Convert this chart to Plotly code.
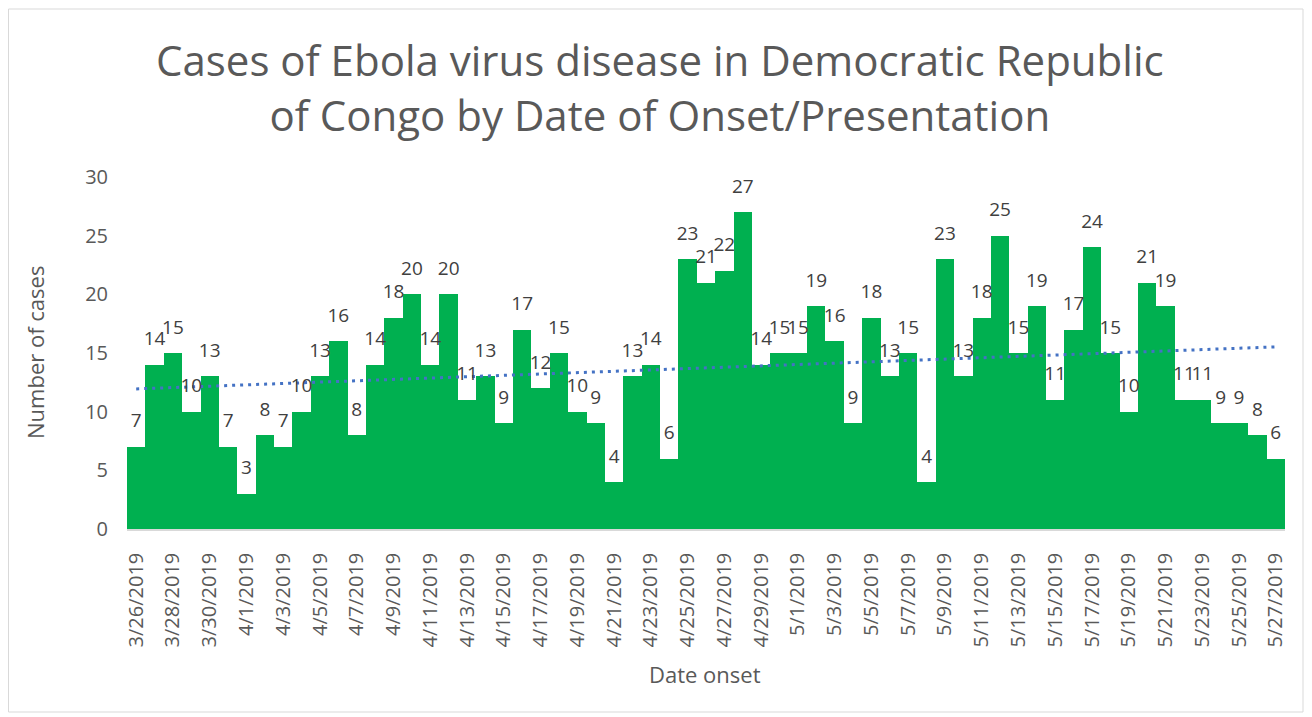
import datetime as dt
import numpy as np
import plotly.graph_objects as go

start = dt.date(2019, 3, 26)
dates = [f"{d.month}/{d.day}/{d.year}" for d in (start + dt.timedelta(days=i) for i in range(63))]
cases = [7, 14, 15, 10, 13, 7, 3, 8, 7, 10,
         13, 16, 8, 14, 18, 20, 14, 20, 11, 13,
         9, 17, 12, 15, 10, 9, 4, 13, 14, 6,
         23, 21, 22, 27, 14, 15, 15, 19, 16, 9,
         18, 13, 15, 4, 23, 13, 18, 25, 15, 19,
         11, 17, 24, 15, 10, 21, 19, 11, 11, 9,
         9, 8, 6]
tick_labels = dates[::2]
title_text = "Cases of Ebola virus disease in Democratic Republic<br>of Congo by Date of Onset/Presentation"
x_title = "Date onset"
y_title = "Number of cases"

idx = np.arange(1, len(cases) + 1)
slope, intercept = np.polyfit(idx, cases, 1)
trend = slope * idx + intercept

FONT = "Open Sans"
GRAY = "#595959"
W, H = 1304, 709
ml, mr, mt, mb = 119, 27, 169, 188
pw = W - ml - mr
ph = H - mt - mb
base = H - mb  # figure y of plot bottom


def px_x(fx):
    return (fx - ml) / pw


def px_y(fy):
    return (base - fy) / ph


fig = go.Figure()
fig.add_trace(go.Bar(
    x=dates, y=cases,
    marker=dict(color="#00B050", line=dict(width=0)),
    showlegend=False,
))
fig.add_trace(go.Scatter(
    x=dates, y=trend, mode="lines",
    line=dict(color="#4472C4", width=3, dash="3px,5px"),
    showlegend=False, hoverinfo="skip",
))
fig.add_trace(go.Scatter(
    x=dates, y=cases, mode="markers+text",
    marker=dict(size=22, opacity=0),
    text=[str(v) for v in cases], textposition="top center",
    textfont=dict(family=FONT, size=19, color="#404040"),
    cliponaxis=False, showlegend=False, hoverinfo="skip",
))

fig.add_shape(type="rect", xref="paper", yref="paper",
              x0=px_x(0.5), x1=px_x(1295), y0=px_y(704), y1=px_y(1),
              line=dict(color="#D9D9D9", width=1), layer="below")

fig.add_annotation(text=title_text, xref="paper", yref="paper",
                   x=px_x(652), y=px_y(79), xanchor="center", yanchor="middle",
                   showarrow=False, font=dict(family=FONT, size=42, color=GRAY))
fig.add_annotation(text=y_title, xref="paper", yref="paper",
                   x=px_x(27), y=px_y(353 - 8), xanchor="center", yanchor="middle",
                   textangle=-90, showarrow=False, font=dict(family=FONT, size=22, color=GRAY))
fig.add_annotation(text=x_title, xref="paper", yref="paper",
                   x=px_x(705 - 8), y=px_y(666), xanchor="center", yanchor="middle",
                   showarrow=False, font=dict(family=FONT, size=22, color=GRAY))

fig.update_layout(
    width=W, height=H,
    margin=dict(l=ml, r=mr, t=mt, b=mb, autoexpand=False),
    paper_bgcolor="white", plot_bgcolor="white",
    bargap=0,
    font=dict(family=FONT, color=GRAY),
    hovermode="closest",
)
fig.update_xaxes(type="category", range=[-0.5, len(dates) - 0.5],
                 tickmode="array", tickvals=tick_labels, ticktext=tick_labels,
                 tickangle=-90, tickfont=dict(family=FONT, size=20, color=GRAY),
                 ticklabelstandoff=14, automargin=False,
                 showgrid=False, showline=True, linecolor="#D9D9D9", linewidth=1.5, ticks="")
fig.update_yaxes(range=[0, 30], dtick=5, showgrid=False, showline=False, zeroline=False,
                 tickfont=dict(family=FONT, size=20, color=GRAY), ticks="",
                 ticklabelstandoff=18, automargin=False)
fig.write_html("out.html")
